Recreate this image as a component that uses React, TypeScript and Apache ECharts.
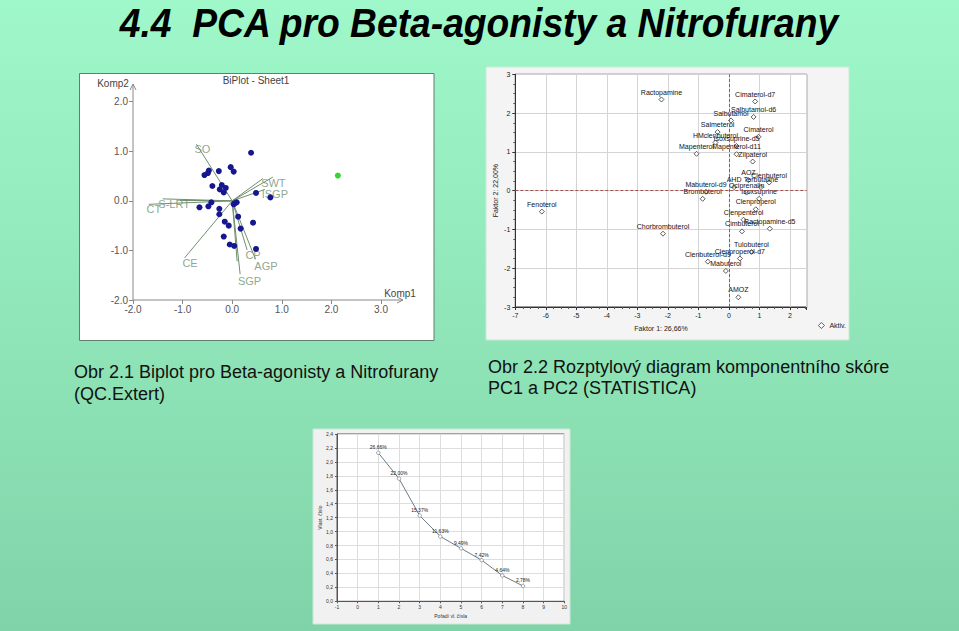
import React, { useEffect, useRef } from 'react';
import * as echarts from 'echarts';

// ---------- Text ----------
const pageTitle = '4.4  PCA pro Beta-agonisty a Nitrofurany';
const caption1 = ['Obr 2.1 Biplot pro Beta-agonisty a Nitrofurany', '(QC.Extert)'];
const caption2 = ['Obr 2.2 Rozptylový diagram komponentního skóre', 'PC1 a PC2 (STATISTICA)'];

// ---------- Panel 1: biplot (QC.Expert) ----------
const biplotScores: number[][] = [
  [0.38, 0.97], [-0.03, 0.68], [0.03, 0.59], [-0.27, 0.60], [-0.47, 0.61], [-0.49, 0.56],
  [-0.56, 0.52], [-0.40, 0.30], [-0.21, 0.32], [-0.13, 0.26], [-0.25, 0.23], [-0.17, 0.17],
  [0.48, 0.16], [0.77, 0.07], [-0.42, -0.03], [-0.66, -0.13], [-0.48, -0.11], [-0.26, -0.16],
  [-0.26, -0.27], [0.05, -0.05], [0.09, -0.03], [0.03, -0.07], [0.12, -0.32], [-0.15, -0.42],
  [-0.07, -0.50], [0.17, -0.56], [0.42, -0.44], [-0.17, -0.72], [-0.05, -0.88], [0.04, -0.91],
  [0.48, -0.97],
];
const biplotOutlier: number[][] = [[2.13, 0.51]];
const vectorEnds: number[][] = [
  [-0.72, 1.14], [0.82, 0.48], [0.62, 0.45], [0.66, 0.23], [-1.40, 0.04], [-1.05, 0.01],
  [-1.68, -0.07], [-0.96, -1.15], [0.16, -1.48], [0.10, -1.22], [0.30, -0.99], [0.47, -1.18],
];
const vectorNames = ['SO', 'SWT', 'ISGP', 'S-LRT', 'CT', 'CE', 'SGP', 'CP', 'AGP'];
const vectorLabelPos: number[][] = [
  [-0.60, 1.05], [0.83, 0.37], [0.86, 0.13], [-1.17, -0.07], [-1.58, -0.17], [-0.85, -1.26],
  [0.35, -1.61], [0.42, -1.09], [0.68, -1.31],
];

// ---------- Panel 2: component score scatter (STATISTICA) ----------
const scoreNames = [
  'Ractopamine', 'Cimaterol-d7', 'Salbutamol-d6', 'Salbutamol', 'Salmeterol', 'Cimaterol',
  'HMclenbuterol', 'Isoxsuprine-d5', 'Mapenterol', 'Mapenterol-d11', 'Zilpaterol', 'AOZ',
  'Clenbuterol', 'AHD', 'Terbutaline', 'Ociprenalin', 'Isoxsuprine', 'Mabuterol-d9',
  'Brombuterol', 'Clenproperol', 'Clenpenterol', 'Ractopamine-d5', 'Cimbuterol', 'Fenoterol',
  'Chorbrombuterol', 'Tulobuterol', 'Clenproperol-d7', 'Clenbuterol-d9', 'Mabuterol', 'AMOZ',
];
const scoreX = [
  -2.21, 0.86, 0.81, 0.07, -0.37, 0.97, -0.44, 0.25, -1.06, 0.25, 0.78, 0.64,
  1.32, 0.17, 1.05, 0.58, 0.99, -0.75, -0.86, 0.88, 0.48, 1.34, 0.43, -6.13,
  -2.16, 0.74, 0.36, -0.69, -0.10, 0.31,
];
const scoreY = [
  2.35, 2.30, 1.90, 1.81, 1.51, 1.39, 1.24, 1.15, 0.95, 0.94, 0.75, 0.27,
  0.21, 0.09, 0.09, -0.05, -0.21, -0.03, -0.21, -0.48, -0.75, -0.98, -1.05, -0.54,
  -1.11, -1.58, -1.75, -1.83, -2.07, -2.75,
];

// ---------- Panel 3: scree plot ----------
const screeOrder = [1, 2, 3, 4, 5, 6, 7, 8];
const screeEigen = [2.13, 1.76, 1.23, 0.93, 0.76, 0.59, 0.37, 0.22];
const screePercent = ['26,66%', '22,00%', '15,37%', '11,63%', '9,49%', '7,42%', '4,64%', '2,78%'];

const FONT = '"Liberation Sans", Arial, sans-serif';
const TITLE_FONT = '"Liberation Sans Narrow", "Liberation Sans", Arial, sans-serif';

export default function App() {
  const ref = useRef<HTMLDivElement>(null);

  useEffect(() => {
    if (!ref.current) return;
    document.body.style.margin = '0';
    const chart = echarts.init(ref.current, undefined, { renderer: 'svg' });

    // fit title width like the original condensed face
    let titleScale = 1;
    const cv = document.createElement('canvas').getContext('2d');
    if (cv) {
      cv.font = `italic bold 40px ${TITLE_FONT}`;
      const w = cv.measureText(pageTitle).width;
      if (w > 0) titleScale = 720 / w;
    }

    const grayAxis = '#888';
    const vectorColor = '#6f8f6f';

    const option: any = {
      animation: false,
      backgroundColor: 'transparent',
      textStyle: { fontFamily: FONT },
      legend: {
        data: [{ name: 'Aktiv.', icon: 'diamond', itemStyle: { color: '#ffffff', borderColor: '#333', borderWidth: 0.8 } }],
        left: 813,
        top: 317,
        itemWidth: 6,
        itemHeight: 6,
        itemGap: 4,
        textStyle: { fontSize: 7, color: '#222', fontFamily: FONT },
      },
      grid: [
        { left: 133, top: 101.7, width: 248, height: 198.3, show: false },
        { left: 515.3, top: 74.3, width: 291.4, height: 232.7, show: true, backgroundColor: '#fff', borderColor: '#333', borderWidth: 1 },
        { left: 337, top: 434, width: 227.3, height: 167.3, show: true, backgroundColor: '#fff', borderColor: '#555', borderWidth: 1 },
      ],
      xAxis: [
        {
          gridIndex: 0, type: 'value', min: -2, max: 3, interval: 1,
          axisLine: { show: false, onZero: false },
          axisTick: { show: true, length: 4, lineStyle: { color: grayAxis } },
          axisLabel: { fontSize: 10, color: '#555', margin: 4, formatter: (v: number) => v.toFixed(1) },
          splitLine: { show: false },
        },
        {
          gridIndex: 1, type: 'value', min: -7, max: 2.55, interval: 1,
          name: 'Faktor 1: 26,66%', nameLocation: 'middle', nameGap: 18,
          nameTextStyle: { fontSize: 7, color: '#222' },
          axisLine: { show: true, onZero: false, lineStyle: { color: '#333' } },
          axisTick: { show: true, length: 3, lineStyle: { color: '#333' } },
          minorTick: { show: true, splitNumber: 4, length: 2, lineStyle: { color: '#555' } },
          axisLabel: { fontSize: 7, color: '#222', margin: 5, showMaxLabel: false },
          splitLine: { show: true, lineStyle: { color: '#d4d4d4', width: 1 } },
        },
        {
          gridIndex: 2, type: 'value', min: -1, max: 10, interval: 1,
          name: 'Pořadí vl. čísla', nameLocation: 'middle', nameGap: 12,
          nameTextStyle: { fontSize: 5, color: '#333' },
          axisLine: { show: true, onZero: false, lineStyle: { color: '#555' } },
          axisTick: { show: true, length: 2, lineStyle: { color: '#555' } },
          axisLabel: { fontSize: 5, color: '#333', margin: 3 },
          splitLine: { show: true, lineStyle: { color: '#dddddd', width: 1 } },
        },
      ],
      yAxis: [
        {
          gridIndex: 0, type: 'value', min: -2, max: 2, interval: 1,
          axisLine: { show: false, onZero: false },
          axisTick: { show: true, length: 4, lineStyle: { color: grayAxis } },
          axisLabel: { fontSize: 10, color: '#555', margin: 5, formatter: (v: number) => v.toFixed(1) },
          splitLine: { show: false },
        },
        {
          gridIndex: 1, type: 'value', min: -3, max: 3, interval: 1,
          name: 'Faktor 2: 22,00%', nameLocation: 'middle', nameGap: 16, nameRotate: 90,
          nameTextStyle: { fontSize: 7, color: '#222' },
          axisLine: { show: true, onZero: false, lineStyle: { color: '#333' } },
          axisTick: { show: true, length: 3, lineStyle: { color: '#333' } },
          minorTick: { show: true, splitNumber: 4, length: 2, lineStyle: { color: '#555' } },
          axisLabel: { fontSize: 7, color: '#222', margin: 5 },
          splitLine: { show: true, lineStyle: { color: '#d4d4d4', width: 1 } },
        },
        {
          gridIndex: 2, type: 'value', min: 0, max: 2.4, interval: 0.2,
          name: 'Vlast. číslo', nameLocation: 'middle', nameGap: 14, nameRotate: 90,
          nameTextStyle: { fontSize: 5, color: '#333' },
          axisLine: { show: true, onZero: false, lineStyle: { color: '#555' } },
          axisTick: { show: true, length: 2, lineStyle: { color: '#555' } },
          axisLabel: { fontSize: 5, color: '#333', margin: 4, formatter: (v: number) => v.toFixed(1).replace('.', ',') },
          splitLine: { show: true, lineStyle: { color: '#dddddd', width: 1 } },
        },
      ],
      series: [
        // ---- biplot ----
        {
          type: 'lines', coordinateSystem: 'cartesian2d', xAxisIndex: 0, yAxisIndex: 0,
          silent: true, z: 2,
          lineStyle: { color: vectorColor, width: 1, opacity: 1 },
          data: vectorEnds.map((e) => ({ coords: [[0, 0], e] })),
        },
        {
          type: 'scatter', xAxisIndex: 0, yAxisIndex: 0, symbolSize: 0, silent: true, z: 3,
          label: { show: true, position: 'inside', formatter: '{b}', fontSize: 11, color: vectorColor },
          data: vectorNames.map((n, i) => ({ name: n, value: vectorLabelPos[i] })),
        },
        {
          type: 'scatter', xAxisIndex: 0, yAxisIndex: 0, symbol: 'circle', symbolSize: 6, z: 4,
          itemStyle: { color: '#16168f', opacity: 1 },
          data: biplotScores,
        },
        {
          type: 'scatter', xAxisIndex: 0, yAxisIndex: 0, symbol: 'circle', symbolSize: 6, z: 4,
          itemStyle: { color: '#33d633', opacity: 1 },
          data: biplotOutlier,
        },
        // ---- STATISTICA scatter ----
        {
          name: 'Aktiv.', type: 'scatter', xAxisIndex: 1, yAxisIndex: 1,
          symbol: 'diamond', symbolSize: 5, z: 4,
          itemStyle: { color: '#ffffff', borderColor: '#333', borderWidth: 0.8, opacity: 1 },
          label: { show: true, position: 'top', distance: 1, formatter: '{b}', fontSize: 7, color: '#111' },
          data: scoreNames.map((n, i) => ({ name: n, value: [scoreX[i], scoreY[i]] })),
          markLine: {
            silent: true, symbol: ['none', 'none'], label: { show: false },
            lineStyle: { color: '#a8504f', type: [3, 2], width: 1 },
            data: [{ xAxis: 0 }, { yAxis: 0 }],
          },
        },
        // ---- scree plot ----
        {
          type: 'line', xAxisIndex: 2, yAxisIndex: 2, symbol: 'circle', symbolSize: 3.5, z: 4,
          lineStyle: { color: '#707a86', width: 1 },
          itemStyle: { color: '#ffffff', borderColor: '#707a86', borderWidth: 0.7 },
          label: {
            show: true, position: 'top', distance: 1, fontSize: 5, color: '#222',
            formatter: (p: any) => screePercent[p.dataIndex],
          },
          data: screeOrder.map((o, i) => [o, screeEigen[i]]),
        },
      ],
      graphic: [
        // panel backgrounds
        { type: 'rect', z: -10, shape: { x: 79.5, y: 73.5, width: 354.5, height: 267 }, style: { fill: '#ffffff', stroke: '#5f7f6f', lineWidth: 1 } },
        { type: 'rect', z: -10, shape: { x: 486, y: 67, width: 363, height: 273 }, style: { fill: '#f4f4f4', stroke: '#c8ead8', lineWidth: 1 } },
        { type: 'rect', z: -10, shape: { x: 313, y: 429, width: 257, height: 195 }, style: { fill: '#f1f1f1', stroke: '#c8ead8', lineWidth: 1 } },
        // biplot axes with arrows
        { type: 'line', z: 1, shape: { x1: 133, y1: 300, x2: 133, y2: 84 }, style: { stroke: grayAxis, lineWidth: 1 } },
        { type: 'polyline', z: 1, shape: { points: [[130, 90], [133, 84], [136, 90]] }, style: { stroke: grayAxis, lineWidth: 1, fill: 'none' } },
        { type: 'line', z: 1, shape: { x1: 133, y1: 300, x2: 403, y2: 300 }, style: { stroke: grayAxis, lineWidth: 1 } },
        { type: 'polyline', z: 1, shape: { points: [[397, 297], [403, 300], [397, 303]] }, style: { stroke: grayAxis, lineWidth: 1, fill: 'none' } },
        { type: 'text', z: 10, x: 256, y: 80, style: { text: 'BiPlot - Sheet1', fontSize: 10, fill: '#444', fontFamily: FONT, textAlign: 'center', textVerticalAlign: 'middle' } },
        { type: 'text', z: 10, x: 113, y: 83, style: { text: 'Komp2', fontSize: 10, fill: '#444', fontFamily: FONT, textAlign: 'center', textVerticalAlign: 'middle' } },
        { type: 'text', z: 10, x: 400, y: 293, style: { text: 'Komp1', fontSize: 10, fill: '#444', fontFamily: FONT, textAlign: 'center', textVerticalAlign: 'middle' } },
        // page title
        {
          type: 'text', z: 10, x: 479, y: 23, scaleX: titleScale,
          style: { text: pageTitle, x: 0, y: 0, fontSize: 40, fontWeight: 'bold', fontStyle: 'italic', fontFamily: TITLE_FONT, fill: '#000', textAlign: 'center', textVerticalAlign: 'middle' },
        },
        // captions
        { type: 'text', z: 10, x: 74, y: 372, style: { text: caption1[0], fontSize: 18, fontFamily: FONT, fill: '#111', textAlign: 'left', textVerticalAlign: 'middle' } },
        { type: 'text', z: 10, x: 74, y: 394, style: { text: caption1[1], fontSize: 18, fontFamily: FONT, fill: '#111', textAlign: 'left', textVerticalAlign: 'middle' } },
        { type: 'text', z: 10, x: 488, y: 367, style: { text: caption2[0], fontSize: 18, fontFamily: FONT, fill: '#111', textAlign: 'left', textVerticalAlign: 'middle' } },
        { type: 'text', z: 10, x: 488, y: 388, style: { text: caption2[1], fontSize: 18, fontFamily: FONT, fill: '#111', textAlign: 'left', textVerticalAlign: 'middle' } },
      ],
    };

    chart.setOption(option);
    return () => chart.dispose();
  }, []);

  return (
    <div
      style={{
        position: 'fixed', left: 0, top: 0, width: 959, height: 631,
        background: 'linear-gradient(180deg, #9ff8ca 0%, #90e6b9 50%, #80d3a8 100%)',
      }}
    >
      <div ref={ref} style={{ width: 959, height: 631 }} />
    </div>
  );
}
